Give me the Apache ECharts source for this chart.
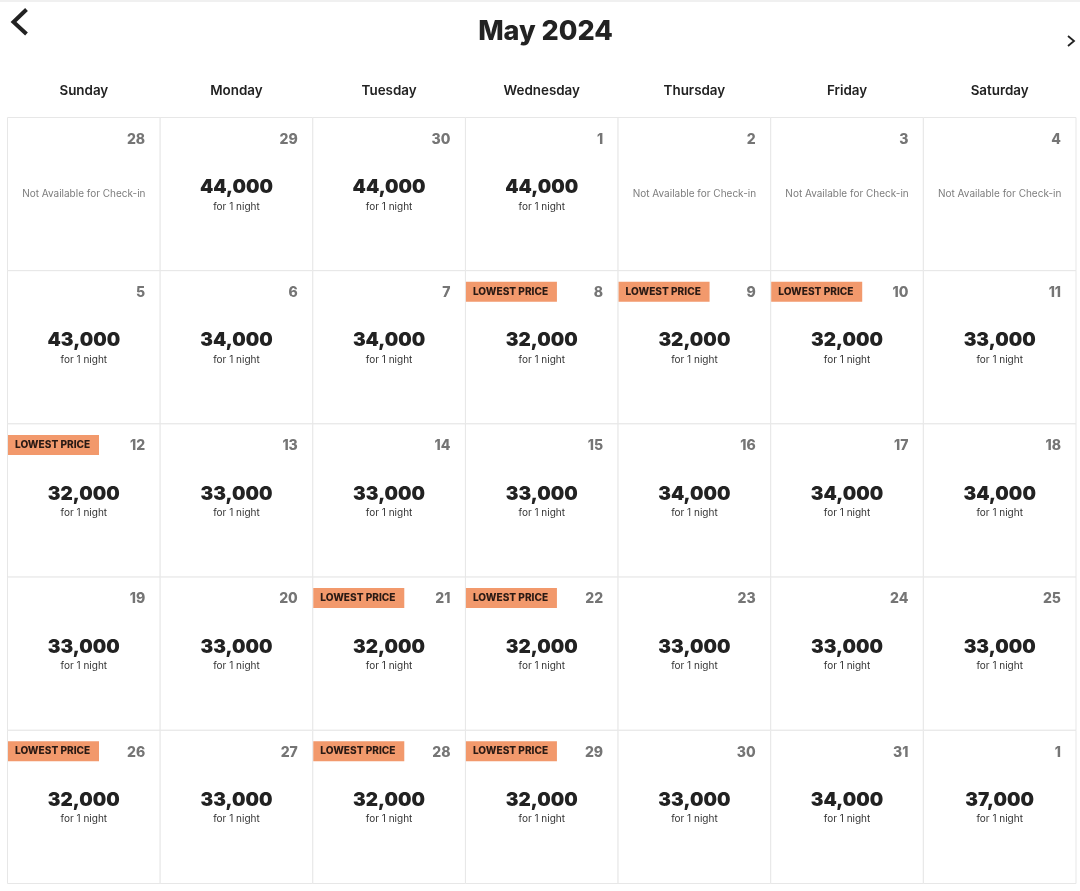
<!DOCTYPE html>
<html>
<head>
<meta charset="utf-8">
<style>html,body{margin:0;padding:0;background:#fff}#main{width:1080px;height:891px}</style>
<script src="https://cdn.jsdelivr.net/npm/echarts@6/dist/echarts.min.js"></script>
</head>
<body>
<div id="main"></div>
<script>
var weekdays = ["Sunday","Monday","Tuesday","Wednesday","Thursday","Friday","Saturday"];
var weeks = ["w1","w2","w3","w4","w5"];
var dayNumbers = [
  [28,29,30,1,2,3,4],
  [5,6,7,8,9,10,11],
  [12,13,14,15,16,17,18],
  [19,20,21,22,23,24,25],
  [26,27,28,29,30,31,1]
];
var prices = [
  [null,44000,44000,44000,null,null,null],
  [43000,34000,34000,32000,32000,32000,33000],
  [32000,33000,33000,33000,34000,34000,34000],
  [33000,33000,32000,32000,33000,33000,33000],
  [32000,33000,32000,32000,33000,34000,37000]
];
var lowestPrice = [
  [0,0,0,0,0,0,0],
  [0,0,0,1,1,1,0],
  [1,0,0,0,0,0,0],
  [0,0,1,1,0,0,0],
  [1,0,1,1,0,0,0]
];

var cells = [];
weeks.forEach(function (w, r) {
  weekdays.forEach(function (d, c) {
    cells.push({value: [c, r], day: dayNumbers[r][c], price: prices[r][c], lowest: lowestPrice[r][c]});
  });
});

var FONT = 'Inter, "Open Sans", sans-serif';

function renderCell(params, api) {
  var cell = cells[params.dataIndex];
  var center = api.coord([api.value(0), api.value(1)]);
  var size = api.size([1, 1]);
  var left = center[0] - size[0] / 2;
  var top = center[1] - size[1] / 2;
  var cx = center[0];
  var kids = [{
    type: 'rect',
    shape: {x: left, y: top, width: size[0], height: size[1]},
    style: {fill: '#fff', stroke: '#e7e7e7', lineWidth: 1}
  }, {
    type: 'text',
    style: {x: left + size[0] - 15, y: top + 22, text: String(cell.day), fill: '#757575',
      font: '800 14px ' + FONT, align: 'right', verticalAlign: 'middle'}
  }];
  if (cell.price === null) {
    kids.push({
      type: 'text',
      style: {x: cx, y: top + 76, text: 'Not Available for Check-in', fill: '#7d7d7d',
        font: '400 10px ' + FONT, align: 'center', verticalAlign: 'middle'}
    });
  } else {
    kids.push({
      type: 'text',
      style: {x: cx, y: top + 70, text: cell.price.toLocaleString('en-US'), fill: '#222',
        font: '900 19px ' + FONT, align: 'center', verticalAlign: 'middle'}
    }, {
      type: 'text',
      style: {x: cx, y: top + 89, text: 'for 1 night', fill: '#333',
        font: '400 10px ' + FONT, align: 'center', verticalAlign: 'middle'}
    });
  }
  if (cell.lowest) {
    kids.push({
      type: 'rect',
      shape: {x: left + 0.5, y: top + 11, width: 91, height: 20},
      style: {fill: '#f2996c'}
    }, {
      type: 'text',
      style: {x: left + 7.5, y: top + 21, text: 'LOWEST PRICE', fill: '#2a1a14',
        font: '800 10.1px ' + FONT, align: 'left', verticalAlign: 'middle'}
    });
  }
  return {type: 'group', children: kids};
}

var option = {
  backgroundColor: '#fff',
  animation: false,
  title: {
    text: 'May 2024',
    left: 545.5,
    top: 18,
    padding: 0,
    textAlign: 'center',
    textStyle: {fontFamily: FONT, fontSize: 27, fontWeight: 800, color: '#222'}
  },
  grid: {left: 7.5, right: 4, top: 117.5, bottom: 7.5},
  xAxis: {
    type: 'category',
    position: 'top',
    data: weekdays,
    axisLine: {show: false},
    axisTick: {show: false},
    axisLabel: {margin: 20, color: '#222', fontFamily: FONT, fontSize: 13.4, fontWeight: 600}
  },
  yAxis: {
    type: 'category',
    inverse: true,
    data: weeks,
    axisLine: {show: false},
    axisTick: {show: false},
    axisLabel: {show: false}
  },
  series: [{
    type: 'custom',
    renderItem: renderCell,
    clip: false,
    encode: {x: 0, y: 1},
    data: cells
  }],
  graphic: [
    {type: 'rect', shape: {x: 0, y: 0, width: 1080, height: 2}, style: {fill: '#f0f0f0'}},
    {type: 'polyline', shape: {points: [[26.5, 9.5], [13.5, 22], [26.5, 34]]},
      style: {stroke: '#222', lineWidth: 4, fill: null}},
    {type: 'polyline', shape: {points: [[1068, 36], [1074, 41], [1068, 46]]},
      style: {stroke: '#222', lineWidth: 1.8, fill: null}}
  ]
};

var chart = echarts.init(document.getElementById('main'));
chart.setOption(option);
</script>
</body>
</html>
